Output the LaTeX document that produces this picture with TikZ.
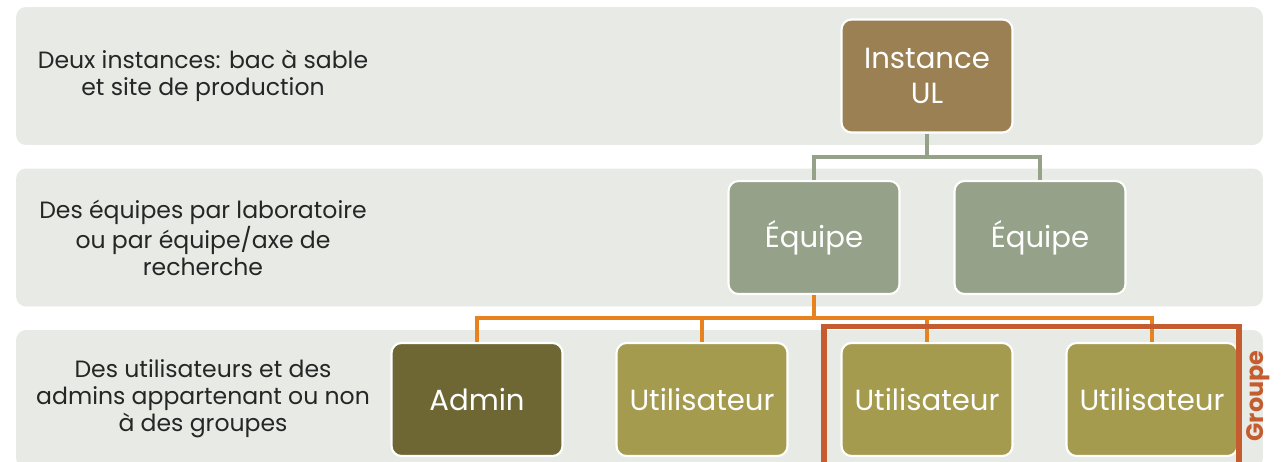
\documentclass[tikz,border=0pt]{standalone}
\usepackage{fontspec}
\setmainfont{Poppins}
\usetikzlibrary{positioning}

\definecolor{bandgrey}{HTML}{E8EAE5}
\definecolor{instbrown}{HTML}{9A8053}
\definecolor{teamgreen}{HTML}{95A188}
\definecolor{admolive}{HTML}{6E6734}
\definecolor{userolive}{HTML}{A59B4F}
\definecolor{linkorange}{HTML}{E8821E}
\definecolor{grpred}{HTML}{C45C30}
\definecolor{darktext}{HTML}{262626}

\tikzset{
    band/.style={fill=bandgrey, rounded corners=0.2cm, minimum width=24.94cm, minimum height=2.76cm},
    bandtext/.style={align=center, text=darktext, font=\fontsize{13.4}{15.4}\selectfont},
    box/.style={draw=white, line width=1.2pt, rounded corners=0.2cm, minimum width=3.42cm, minimum height=2.26cm,
        align=center, text=white, font=\fontsize{16.6}{20}\selectfont},
    linkgrey/.style={draw=teamgreen, line width=2.2pt},
    linkorange/.style={draw=linkorange, line width=2.2pt},
}

\begin{document}
\begin{tikzpicture}[x=0.02cm, y=-0.02cm]
    \useasboundingbox (0,0) rectangle (1284,462);
    \clip (0,0) rectangle (1284,462);

    \node (B1) [band] at (639.5,76) {};
    \node (B2) [band] at (639.5,237.5) {};
    \node (B3) [band] at (639.5,399) {};

    \node (T1) [bandtext] at (203,76) {Deux instances: bac à sable\\et site de production};
    \node (T2) [bandtext] at (203,238) {Des équipes par laboratoire\\ou par équipe/axe de\\recherche};
    \node (T3) [bandtext] at (203,399) {Des utilisateurs et des\\admins appartenant ou non\\à des groupes};

    \node (UL) [box, fill=instbrown] at (927,76) {Instance\\UL};
    \node (EQ1) [box, fill=teamgreen] at (814,237.5) {Équipe};
    \node (EQ2) [box, fill=teamgreen] at (1040,237.5) {Équipe};
    \node (ADM) [box, fill=admolive] at (477,399.5) {Admin};
    \node (U1) [box, fill=userolive] at (702,399.5) {Utilisateur};
    \node (U2) [box, fill=userolive] at (927,399.5) {Utilisateur};
    \node (U3) [box, fill=userolive] at (1152,399.5) {Utilisateur};

    \coordinate (J1) at (927,157);
    \coordinate (J2) at (814,318);

    \draw [linkgrey] (UL.south) -- (J1);
    \draw [linkgrey] (J1) -| (EQ1.north);
    \draw [linkgrey] (J1) -| (EQ2.north);

    \draw [linkorange] (EQ1.south) -- (J2);
    \draw [linkorange] (J2) -| (ADM.north);
    \draw [linkorange] (J2) -| (U1.north);
    \draw [linkorange] (J2) -| (U2.north);
    \draw [linkorange] (J2) -| (U3.north);

    \node (GRP) [draw=grpred, line width=3pt, minimum width=8.3cm, minimum height=3.1cm] at (1031.5,404) {};
    \node (GRPL) [rotate=90, text=grpred, font=\bfseries\fontsize{13.6}{15}\selectfont] at (1258,396) {Groupe};
\end{tikzpicture}
\end{document}
